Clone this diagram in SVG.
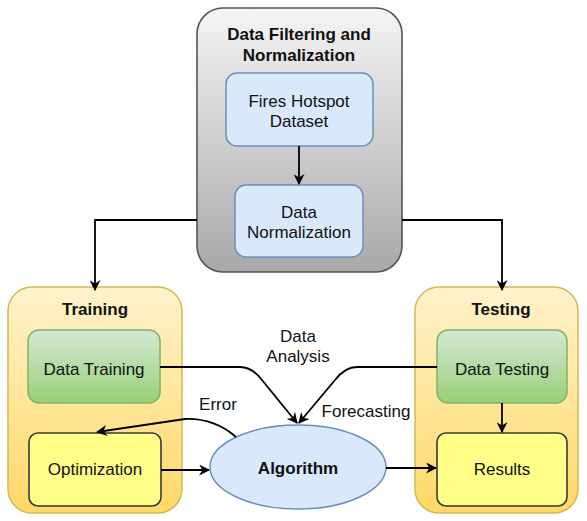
<svg xmlns="http://www.w3.org/2000/svg" width="587" height="521" viewBox="0 0 587 521">
<defs>
<linearGradient id="gGray" x1="0" y1="0" x2="0" y2="1"><stop offset="0" stop-color="#f5f5f5"/><stop offset="1" stop-color="#a8a8a8"/></linearGradient>
<linearGradient id="gOrange" x1="0" y1="0" x2="0" y2="1"><stop offset="0" stop-color="#fff2cc"/><stop offset="1" stop-color="#ffd966"/></linearGradient>
<linearGradient id="gGreen" x1="0" y1="0" x2="0" y2="1"><stop offset="0" stop-color="#d5e8d4"/><stop offset="1" stop-color="#97d077"/></linearGradient>
<marker id="arr" viewBox="0 0 10 10" refX="9" refY="5" markerWidth="11" markerHeight="11" markerUnits="userSpaceOnUse" orient="auto"><path d="M0,0 L10,5 L0,10 L3,5 Z" fill="#000"/></marker>
</defs>
<style>
text{font-family:"Liberation Sans",Arial,sans-serif;font-size:17px;fill:#111;text-anchor:middle}
.b{font-weight:bold}
.gray{fill:url(#gGray);stroke:#555;stroke-width:1.6}
.blue{fill:#dae8fc;stroke:#6c8ebf;stroke-width:1.5}
.orange{fill:url(#gOrange);stroke:#d6b656;stroke-width:1.5}
.green{fill:url(#gGreen);stroke:#82b366;stroke-width:1.5}
.yellow{fill:#ffff88;stroke:#36393d;stroke-width:1.6}
.edge{fill:none;stroke:#000;stroke-width:1.8;marker-end:url(#arr)}
</style>
<rect width="587" height="521" fill="#fff"/>
<g id="filtering">
<rect class="gray" x="197" y="8" width="205" height="264" rx="26"/>
<text class="b" x="299" y="40">Data Filtering and</text>
<text class="b" x="299" y="61">Normalization</text>
</g>
<g id="fires">
<rect class="blue" x="226" y="73" width="147" height="73" rx="11"/>
<text x="299" y="107">Fires Hotspot</text>
<text x="299" y="127">Dataset</text>
</g>
<g id="normalization">
<rect class="blue" x="235" y="185" width="128" height="72" rx="11"/>
<text x="299" y="218">Data</text>
<text x="299" y="238">Normalization</text>
</g>
<g id="training">
<rect class="orange" x="8" y="287" width="174" height="226" rx="24"/>
<text class="b" x="95" y="315">Training</text>
</g>
<g id="data-training">
<rect class="green" x="28" y="330" width="132" height="73" rx="11"/>
<text x="94" y="375">Data Training</text>
</g>
<g id="optimization">
<rect class="yellow" x="29" y="433" width="132" height="73" rx="9"/>
<text x="95" y="475">Optimization</text>
</g>
<g id="testing">
<rect class="orange" x="415" y="287" width="163" height="226" rx="24"/>
<text class="b" x="501" y="315">Testing</text>
</g>
<g id="data-testing">
<rect class="green" x="437" y="330" width="130" height="73" rx="11"/>
<text x="502" y="375">Data Testing</text>
</g>
<g id="results">
<rect class="yellow" x="437" y="433" width="130" height="73" rx="9"/>
<text x="502" y="475">Results</text>
</g>
<g id="algorithm">
<ellipse class="blue" cx="298" cy="467" rx="88" ry="42"/>
<text class="b" x="298" y="474">Algorithm</text>
</g>
<g id="connectors">
<path class="edge" d="M299 146 L299 184"/>
<path class="edge" d="M197 220 L95 220 L95 290"/>
<path class="edge" d="M402 220 L502 220 L502 290"/>
<path class="edge" d="M160 367 L240 367 Q252 367 262 380 L297 423"/>
<path class="edge" d="M437 367 L357 367 Q345 367 335 380 L299 423"/>
<path class="edge" d="M236 437 Q214 418 185 419 L97 432"/>
<path class="edge" d="M161 470 L209 470"/>
<path class="edge" d="M386 468 L436 468"/>
<path class="edge" d="M502 403 L502 432"/>
</g>
<g id="labels">
<text x="298" y="342">Data</text>
<text x="298" y="362">Analysis</text>
<text x="218" y="410">Error</text>
<text x="366" y="417">Forecasting</text>
</g>
</svg>
